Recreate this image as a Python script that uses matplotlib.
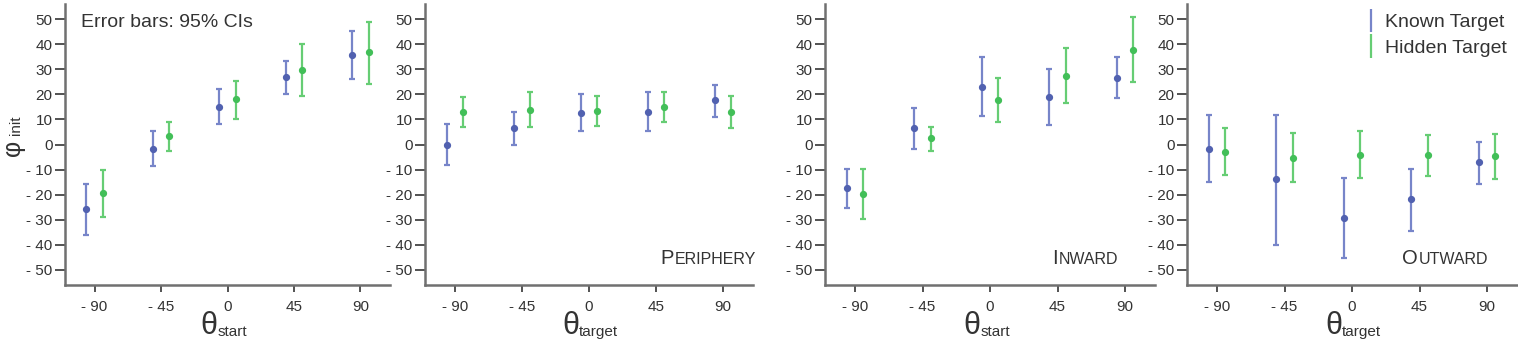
import matplotlib.pyplot as plt
from matplotlib.offsetbox import AnchoredOffsetbox, HPacker, TextArea
from matplotlib.container import ErrorbarContainer
from matplotlib.legend_handler import HandlerErrorbar

plt.rcParams['font.family'] = ['Liberation Sans', 'DejaVu Sans']

angles = [-90, -45, 0, 45, 90]
tick_labels = ['- 90', '- 45', '0', '45', '90']
y_ticks = list(range(-50, 51, 10))
y_tick_labels = ['- 50', '- 40', '- 30', '- 20', '- 10', '0', '10', '20', '30', '40', '50']

# start position
start_known = [-25.8, -1.9, 15.0, 26.9, 35.7]
start_known_lo = [-36.0, -8.6, 8.1, 20.2, 26.1]
start_known_hi = [-15.7, 5.2, 22.0, 33.3, 45.2]
start_hidden = [-19.4, 3.4, 18.0, 29.6, 36.8]
start_hidden_lo = [-28.7, -2.5, 10.3, 19.4, 24.3]
start_hidden_hi = [-10.2, 8.9, 25.5, 40.0, 48.9]

# periphery
peri_known = [0.0, 6.6, 12.7, 13.0, 17.6]
peri_known_lo = [-8.2, 0.0, 5.4, 5.4, 11.0]
peri_known_hi = [8.3, 13.0, 20.0, 20.8, 23.8]
peri_hidden = [13.1, 13.8, 13.4, 14.9, 13.1]
peri_hidden_lo = [7.0, 7.0, 7.3, 8.9, 6.7]
peri_hidden_hi = [18.9, 20.8, 19.4, 20.8, 19.4]

# inward
in_known = [-17.5, 6.5, 23.1, 18.9, 26.7]
in_known_lo = [-25.3, -1.6, 11.2, 7.7, 18.7]
in_known_hi = [-9.7, 14.6, 35.0, 30.0, 34.9]
in_hidden = [-19.7, 2.4, 17.6, 27.5, 37.7]
in_hidden_lo = [-29.8, -2.4, 8.9, 16.7, 24.9]
in_hidden_hi = [-9.7, 7.0, 26.6, 38.6, 51.0]

# outward
out_known = [-1.6, -13.9, -29.1, -21.8, -7.1]
out_known_lo = [-14.9, -40.1, -45.2, -34.3, -15.6]
out_known_hi = [11.9, 11.9, -13.2, -9.7, 1.1]
out_hidden = [-2.9, -5.3, -4.0, -4.2, -4.6]
out_hidden_lo = [-12.3, -14.9, -13.4, -12.4, -13.8]
out_hidden_hi = [6.5, 4.5, 5.3, 3.6, 4.1]

panels = [
    (start_known, start_known_lo, start_known_hi, start_hidden, start_hidden_lo, start_hidden_hi, 'start', None),
    (peri_known, peri_known_lo, peri_known_hi, peri_hidden, peri_hidden_lo, peri_hidden_hi, 'target', ('P', 'ERIPHERY')),
    (in_known, in_known_lo, in_known_hi, in_hidden, in_hidden_lo, in_hidden_hi, 'start', ('I', 'NWARD')),
    (out_known, out_known_lo, out_known_hi, out_hidden, out_hidden_lo, out_hidden_hi, 'target', ('O', 'UTWARD')),
]
tag_right = [None, 1.025, 0.905, 0.93]

blue_line = '#7785c9'
blue_dot = '#5161b0'
green_line = '#66cd74'
green_dot = '#42bf58'
axis_col = '#707070'
text_col = '#333333'

W, H = 1518, 345
fig = plt.figure(figsize=(W / 100, H / 100), dpi=100)
lefts = [65, 425, 825, 1187]
rights = [390, 753, 1155, 1517]
top, bottom = 4, 285

for i, (kn, kn_lo, kn_hi, hd, hd_lo, hd_hi, sub, tag) in enumerate(panels):
    ax = fig.add_axes([lefts[i] / W, 1 - bottom / H, (rights[i] - lefts[i]) / W, (bottom - top) / H])
    off = 5.5
    xk = [a - off for a in angles]
    xh = [a + off for a in angles]
    ax.errorbar(xk, kn, yerr=[[m - l for m, l in zip(kn, kn_lo)], [h - m for m, h in zip(kn, kn_hi)]],
                fmt='o', color=blue_line, mfc=blue_dot, mec=blue_dot, ms=4.2, elinewidth=1.6,
                capsize=2, capthick=1.6)
    ax.errorbar(xh, hd, yerr=[[m - l for m, l in zip(hd, hd_lo)], [h - m for m, h in zip(hd, hd_hi)]],
                fmt='o', color=green_line, mfc=green_dot, mec=green_dot, ms=4.2, elinewidth=1.6,
                capsize=2, capthick=1.6)
    ax.set_xlim(-110, 110)
    ax.set_ylim(-56, 56)
    ax.set_xticks(angles)
    ax.set_xticklabels(tick_labels)
    ax.set_yticks(y_ticks)
    ax.set_yticklabels(y_tick_labels)
    ax.patch.set_alpha(0)
    for s in ['top', 'right']:
        ax.spines[s].set_visible(False)
    for s in ['left', 'bottom']:
        ax.spines[s].set_color(axis_col)
        ax.spines[s].set_linewidth(1.8)
    ax.tick_params(length=7, width=1.3, color='#444444', labelcolor=text_col, labelsize=11, pad=2)
    ax.tick_params(axis='x', length=5, pad=6)

    # x label: big theta with small subscript
    ax.text(0.47, -0.174, 'θ', transform=ax.transAxes, ha='right', va='baseline',
            fontsize=22, color=text_col)
    ax.text(0.47, -0.18, sub, transform=ax.transAxes, ha='left', va='baseline',
            fontsize=11, color=text_col)

    if tag is not None:
        box = HPacker(children=[TextArea(tag[0], textprops=dict(size=14.5, color=text_col)),
                                TextArea(tag[1], textprops=dict(size=11.5, color=text_col))],
                      align='baseline', pad=0, sep=0.5)
        anc = AnchoredOffsetbox(loc='lower right', child=box, frameon=False,
                                bbox_to_anchor=(tag_right[i], 0.04), bbox_transform=ax.transAxes,
                                borderpad=0)
        ax.add_artist(anc)

    if i == 0:
        ax.text(0.05, 0.965, 'Error bars: 95% CIs', transform=ax.transAxes, ha='left', va='top',
                fontsize=14, color=text_col)
        fig.text(1 / W, 1 - 148 / H, 'φ', rotation=90, ha='left', va='center', fontsize=18, color=text_col)
        fig.text(23 / W, 1 - 125 / H, 'init', rotation=90, ha='right', va='center', fontsize=11, color=text_col)

    if i == 3:
        handles = [
            ax.errorbar([], [], yerr=[], fmt='none', color=blue_line, elinewidth=1.6, capsize=2, capthick=1.6),
            ax.errorbar([], [], yerr=[], fmt='none', color=green_line, elinewidth=1.6, capsize=2, capthick=1.6),
        ]
        ax.legend(handles, ['Known Target', 'Hidden Target'], loc='upper right', frameon=False,
                  fontsize=14, handlelength=0.5, handletextpad=0.5, labelspacing=0.4,
                  borderaxespad=0.1, labelcolor=text_col,
                  handler_map={ErrorbarContainer: HandlerErrorbar(yerr_size=0.6)})

fig.savefig('out.png', dpi=100)
